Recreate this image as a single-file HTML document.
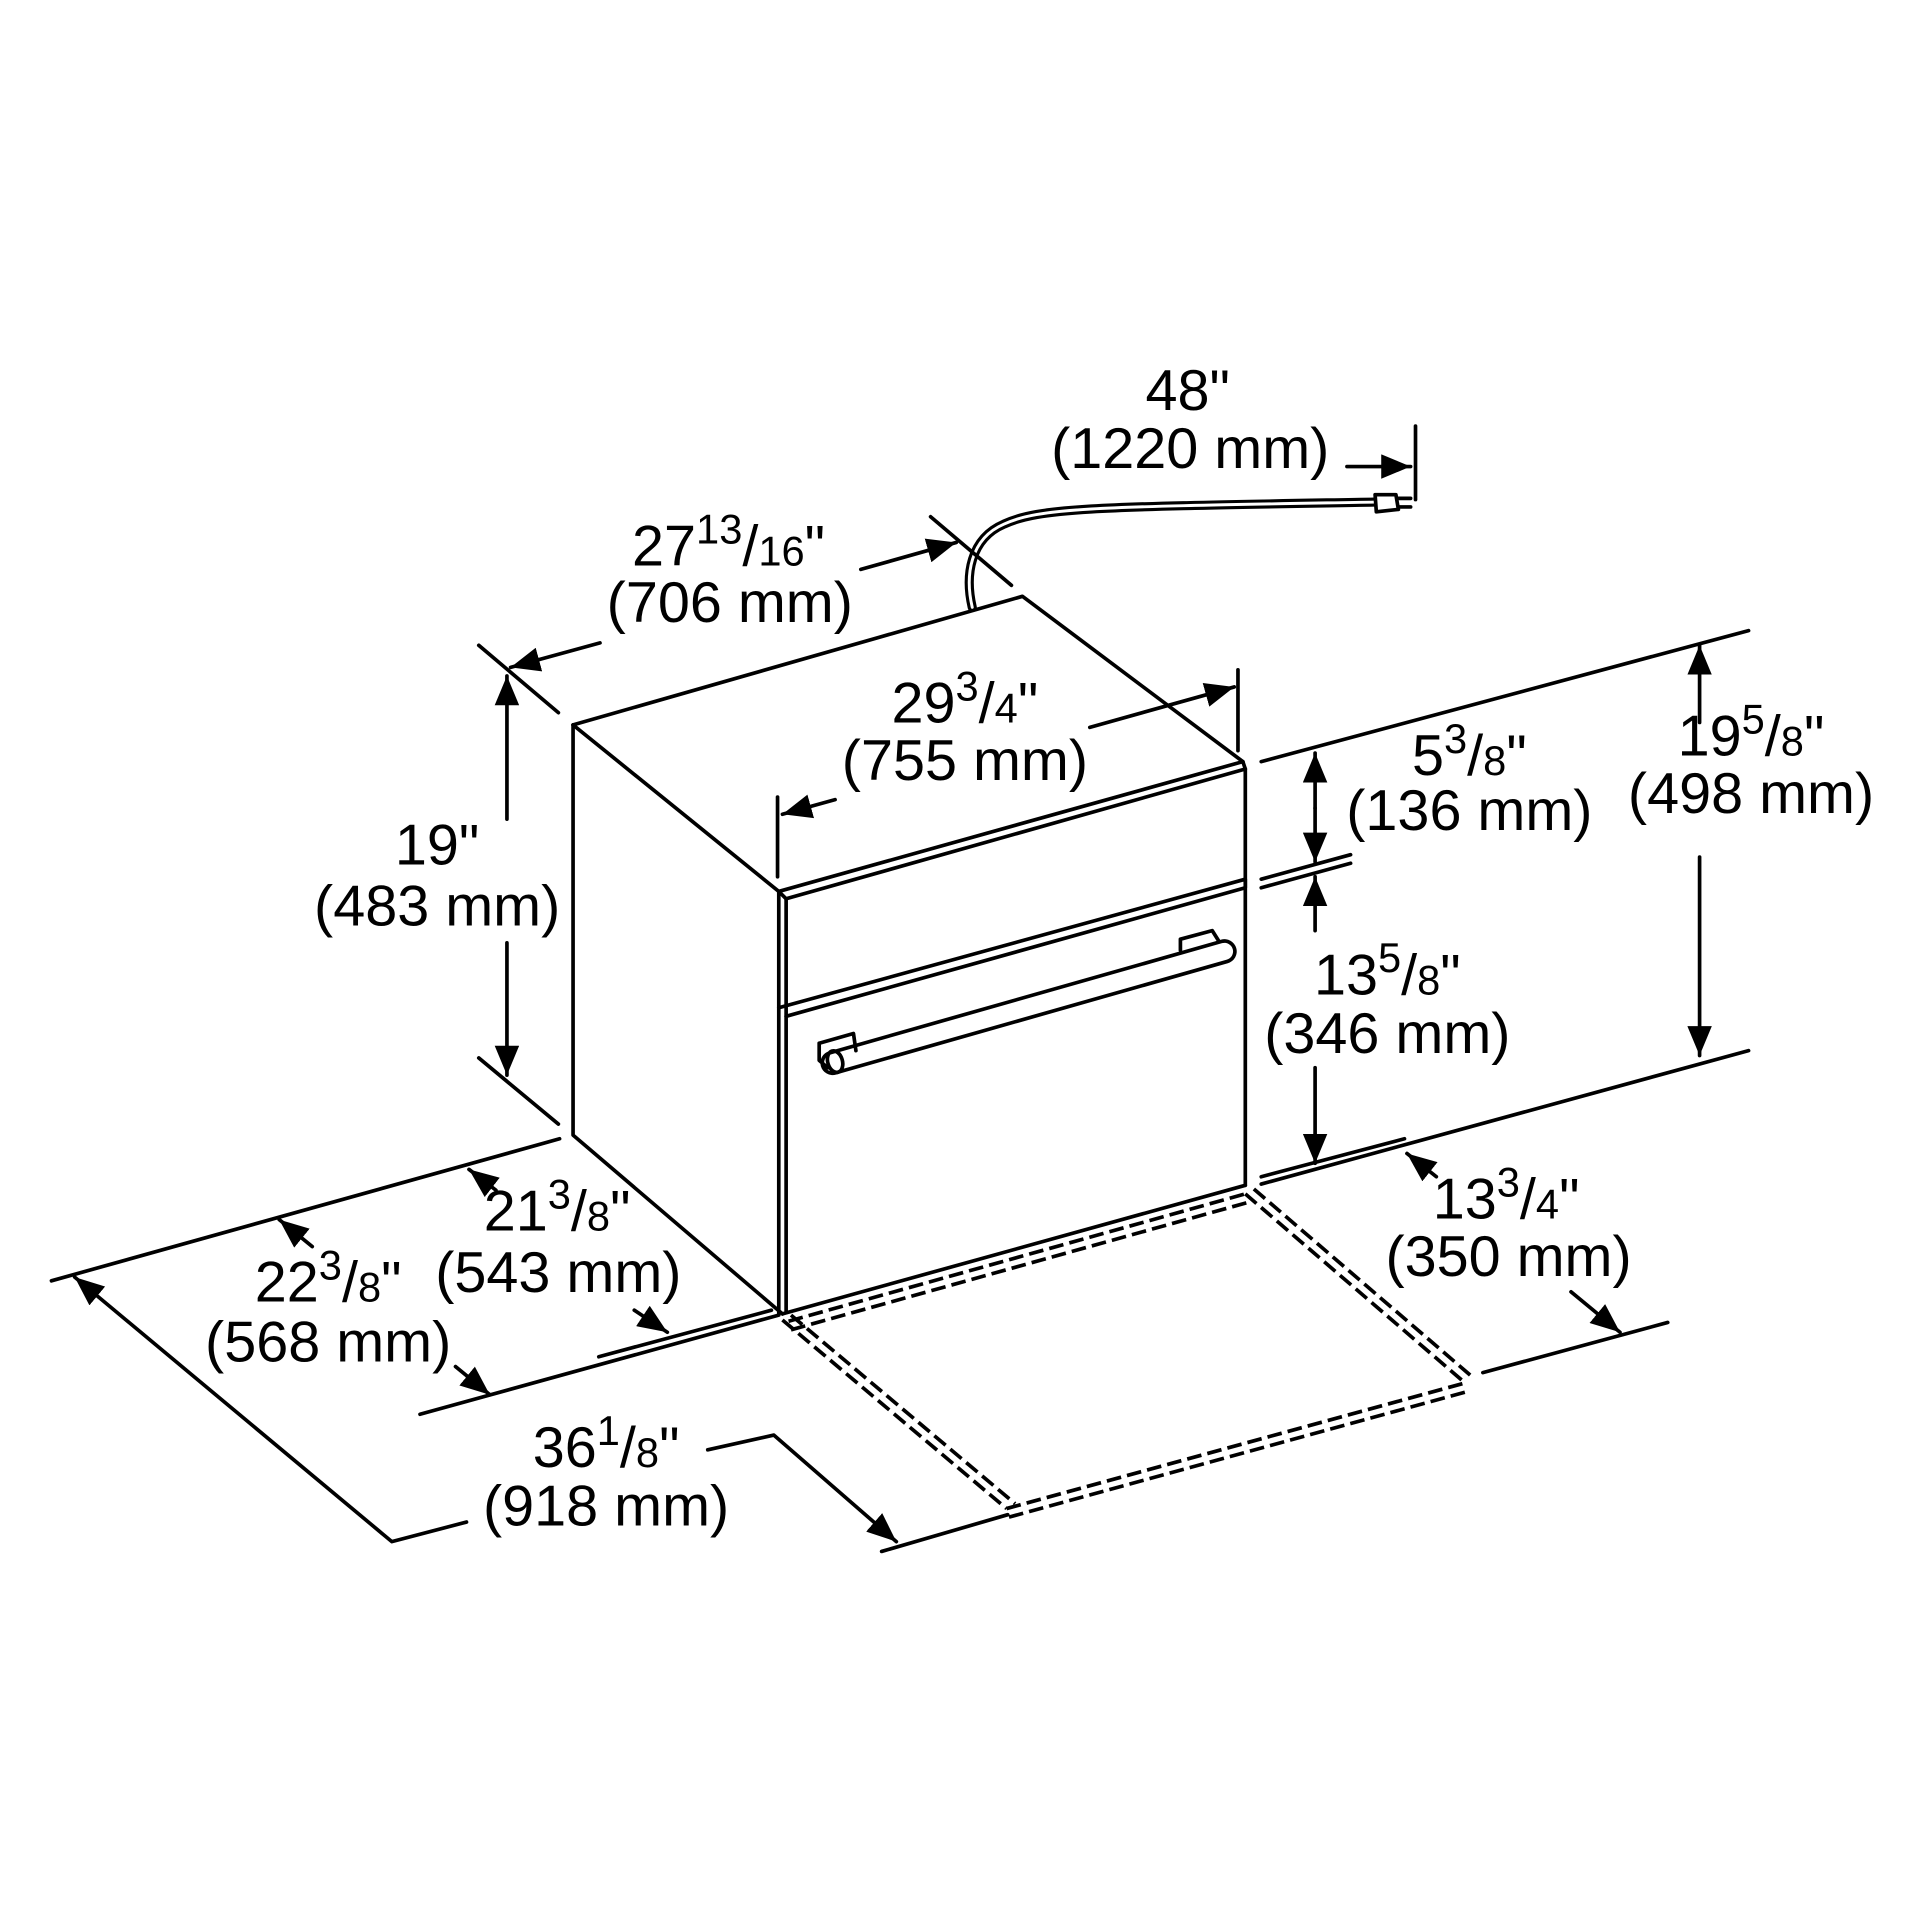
<!DOCTYPE html>
<html><head><meta charset="utf-8"><style>
html,body{margin:0;padding:0;background:#fff;}
svg{display:block;}
text{font-family:"Liberation Sans",Arial,sans-serif;font-size:47px;fill:#000;text-anchor:middle;}
.s{font-size:34px;}
</style></head><body>
<svg width="1920" height="1920" viewBox="0 0 1568 1568" xmlns="http://www.w3.org/2000/svg">
<defs>
<marker id="a" markerUnits="userSpaceOnUse" markerWidth="26" markerHeight="20" refX="24" refY="10" orient="auto">
<path d="M0,0 L24,10 L0,20 Z" fill="#000"/>
</marker>
</defs>
<g stroke="#000" stroke-width="3" fill="none" stroke-linecap="round" stroke-linejoin="round">
<path d="M468,592 L835,487 L1015,622" />
<path d="M468,592 L636,728" />
<path d="M468,592 L468,927 L639,1073" />
<path d="M636,728 L1015,622 L1017,628 L642,734 Z" />
<line x1="636" y1="728" x2="636" y2="1073"/>
<line x1="642" y1="734" x2="642" y2="1072"/>
<line x1="1017" y1="628" x2="1017" y2="968"/>
<line x1="639" y1="1073" x2="1017" y2="968"/>
<path d="M636,823 L1017,718 L1017,725 L642,830" />
<path d="M680,868 L1000,777" stroke-width="20" stroke-linecap="round"/>
<path d="M680,868 L1000,777" stroke="#fff" stroke-width="14" stroke-linecap="round"/>
<path d="M669,852 L697,844 L699,858 M669,852 L669,866 L676,872" />
<ellipse cx="682" cy="867" rx="6" ry="9" transform="rotate(-16 682 867)"/>
<path d="M964,776 L964,767 L990,760 L995,768" />
<path d="M794,496 C788,470 792,440 820,428 C850,414 900,414 1123,410" stroke-width="7.5"/>
<path d="M794,496 C788,470 792,440 820,428 C850,414 900,414 1123,410" stroke="#fff" stroke-width="2.4"/>
<path d="M1123,404 L1140,404 L1142,416 L1124,418 Z" fill="#fff"/>
<line x1="1142" y1="407" x2="1152" y2="407"/>
<line x1="1142" y1="414" x2="1152" y2="414"/>
<line x1="1156" y1="348" x2="1156" y2="408"/>
<line x1="1100" y1="381" x2="1152" y2="381" marker-end="url(#a)"/>
<line x1="760" y1="422" x2="826" y2="478"/>
<line x1="391" y1="527" x2="456" y2="582"/>
<line x1="703" y1="465" x2="781" y2="443" marker-end="url(#a)"/>
<line x1="490" y1="525" x2="417" y2="545" marker-end="url(#a)"/>
<line x1="391" y1="864" x2="456" y2="918"/>
<line x1="414" y1="669" x2="414" y2="552" marker-end="url(#a)"/>
<line x1="414" y1="770" x2="414" y2="878" marker-end="url(#a)"/>
<line x1="635" y1="651" x2="635" y2="716"/>
<line x1="1011" y1="547" x2="1011" y2="613"/>
<line x1="682" y1="653" x2="639" y2="665" marker-end="url(#a)"/>
<line x1="890" y1="594" x2="1008" y2="561" marker-end="url(#a)"/>
<line x1="1030" y1="622" x2="1428" y2="515"/>
<line x1="1030" y1="718" x2="1103" y2="698"/>
<line x1="1030" y1="725" x2="1103" y2="705"/>
<line x1="1030" y1="967" x2="1428" y2="858"/>
<line x1="1030" y1="961" x2="1147" y2="930"/>
<line x1="1074" y1="660" x2="1074" y2="615" marker-end="url(#a)"/>
<line x1="1074" y1="660" x2="1074" y2="704" marker-end="url(#a)"/>
<line x1="1074" y1="760" x2="1074" y2="716" marker-end="url(#a)"/>
<line x1="1074" y1="872" x2="1074" y2="950" marker-end="url(#a)"/>
<line x1="1388" y1="590" x2="1388" y2="527" marker-end="url(#a)"/>
<line x1="1388" y1="700" x2="1388" y2="862" marker-end="url(#a)"/>
<line x1="1173" y1="961" x2="1149" y2="942" marker-end="url(#a)"/>
<line x1="1283" y1="1055" x2="1323" y2="1088" marker-end="url(#a)"/>
<line x1="1211" y1="1121" x2="1362" y2="1080"/>
<line x1="42" y1="1046" x2="457" y2="930"/>
<line x1="343" y1="1155" x2="636" y2="1074"/>
<line x1="489" y1="1108" x2="630" y2="1070"/>
<line x1="255" y1="1018" x2="228" y2="996" marker-end="url(#a)"/>
<line x1="372" y1="1116" x2="400" y2="1139" marker-end="url(#a)"/>
<line x1="405" y1="972" x2="383" y2="955" marker-end="url(#a)"/>
<line x1="518" y1="1070" x2="545" y2="1088" marker-end="url(#a)"/>
<path d="M381,1243 L320,1259 L61,1043" marker-end="url(#a)"/>
<path d="M578,1184 L632,1172 L732,1259" marker-end="url(#a)"/>
<line x1="720" y1="1267" x2="823" y2="1237"/>
</g>
<g stroke="#000" stroke-width="3" fill="none" stroke-dasharray="12 5">
<line x1="644" y1="1079" x2="1017" y2="975"/>
<line x1="646" y1="1086" x2="1019" y2="982"/>
<line x1="639" y1="1078" x2="822" y2="1232"/>
<line x1="646" y1="1074" x2="829" y2="1228"/>
<line x1="1017" y1="975" x2="1196" y2="1129"/>
<line x1="1024" y1="971" x2="1203" y2="1125"/>
<line x1="822" y1="1232" x2="1198" y2="1129"/>
<line x1="824" y1="1239" x2="1200" y2="1136"/>
</g>
<g>
<text x="970" y="335">48"</text>
<text x="972" y="382">(1220 mm)</text>
<text x="595" y="462">27<tspan class="s" dy="-18">13</tspan><tspan dy="18">/</tspan><tspan class="s">16</tspan>"</text>
<text x="596" y="508">(706 mm)</text>
<text x="788" y="590">29<tspan class="s" dy="-18">3</tspan><tspan dy="18">/</tspan><tspan class="s">4</tspan>"</text>
<text x="788" y="637">(755 mm)</text>
<text x="357" y="706">19"</text>
<text x="357" y="756">(483 mm)</text>
<text x="1200" y="633">5<tspan class="s" dy="-18">3</tspan><tspan dy="18">/</tspan><tspan class="s">8</tspan>"</text>
<text x="1200" y="678">(136 mm)</text>
<text x="1430" y="617">19<tspan class="s" dy="-18">5</tspan><tspan dy="18">/</tspan><tspan class="s">8</tspan>"</text>
<text x="1430" y="664">(498 mm)</text>
<text x="1133" y="812">13<tspan class="s" dy="-18">5</tspan><tspan dy="18">/</tspan><tspan class="s">8</tspan>"</text>
<text x="1133" y="860">(346 mm)</text>
<text x="455" y="1005">21<tspan class="s" dy="-18">3</tspan><tspan dy="18">/</tspan><tspan class="s">8</tspan>"</text>
<text x="456" y="1055">(543 mm)</text>
<text x="268" y="1063">22<tspan class="s" dy="-18">3</tspan><tspan dy="18">/</tspan><tspan class="s">8</tspan>"</text>
<text x="268" y="1112">(568 mm)</text>
<text x="1230" y="995">13<tspan class="s" dy="-18">3</tspan><tspan dy="18">/</tspan><tspan class="s">4</tspan>"</text>
<text x="1232" y="1042">(350 mm)</text>
<text x="495" y="1198">36<tspan class="s" dy="-18">1</tspan><tspan dy="18">/</tspan><tspan class="s">8</tspan>"</text>
<text x="495" y="1246">(918 mm)</text>
</g>
</svg>
</body></html>
